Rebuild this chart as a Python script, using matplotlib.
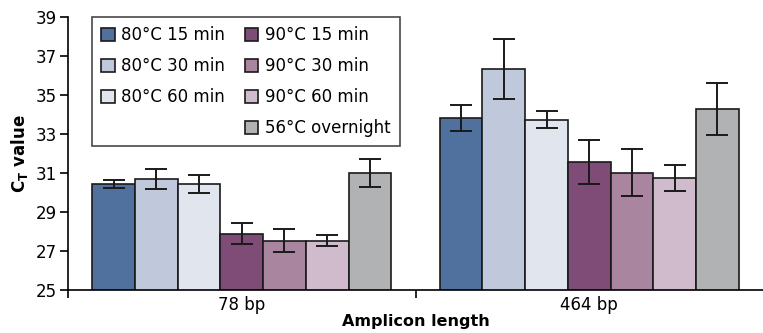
import matplotlib.pyplot as plt
from matplotlib.patches import Rectangle
import numpy as np

plt.rcParams['font.family'] = ['DejaVu Sans']

# amplicons and sample-prep conditions
amplicons = ['78 bp', '464 bp']
conditions = ['80°C 15 min', '80°C 30 min', '80°C 60 min',
              '90°C 15 min', '90°C 30 min', '90°C 60 min', '56°C overnight']
colors = ['#50709d', '#c0c9dc', '#e1e5ee',
          '#7f4b77', '#a9859f', '#d0bbcc', '#b1b2b4']

# mean CT per condition, one list per amplicon
ct_78 = [30.45, 30.69, 30.42, 27.89, 27.53, 27.53, 31.0]
ct_464 = [33.82, 36.33, 33.73, 31.56, 31.02, 30.74, 34.28]
# standard deviations
sd_78 = [0.2, 0.52, 0.47, 0.55, 0.6, 0.28, 0.72]
sd_464 = [0.65, 1.54, 0.44, 1.13, 1.2, 0.67, 1.33]

means = np.array([ct_78, ct_464])
errs = np.array([sd_78, sd_464])

fig = plt.figure(figsize=(7.63, 3.33), dpi=100)
ax = fig.add_axes([68 / 763, 1 - 290 / 333, 695 / 763, 273 / 333])

n = len(conditions)
width = 0.123
x = np.arange(len(amplicons))
bars = []
for i in range(n):
    pos = x + (i - (n - 1) / 2) * width
    b = ax.bar(pos, means[:, i], width, bottom=0, color=colors[i],
               edgecolor='#1a1a1a', linewidth=1.2, label=conditions[i], zorder=2)
    ax.errorbar(pos, means[:, i], yerr=errs[:, i], fmt='none', ecolor='#1a1a1a',
                elinewidth=1.4, capsize=8, capthick=1.4, zorder=3)
    bars.append(b)

ax.set_xlim(-0.5, 1.5)
ax.set_ylim(25, 39)
ax.set_yticks(np.arange(25, 40, 2))
ax.set_xticks(x)
ax.set_xticklabels(amplicons)
# separators under the axis: one at the origin, one between the groups
ax.set_xticks([-0.5, 0.5], minor=True)
ax.tick_params(axis='x', which='major', length=0, pad=4, labelsize=12)
ax.tick_params(axis='x', which='minor', length=6, width=1.2, direction='out')
ax.tick_params(axis='y', length=6, width=1.2, labelsize=12, pad=2)

for s in ['top', 'right']:
    ax.spines[s].set_visible(False)
for s in ['left', 'bottom']:
    ax.spines[s].set_linewidth(1.2)

ax.set_ylabel('C$_\\mathregular{T}$ value', fontsize=12, fontweight='bold', labelpad=4)
ax.set_xlabel('Amplicon length', fontsize=11.5, fontweight='bold', labelpad=0)

# legend: 80°C in the first column, 90°C and 56°C in the second
blank = Rectangle((0, 0), 1, 1, visible=False)
handles = [bars[0], bars[1], bars[2], blank, bars[3], bars[4], bars[5], bars[6]]
labels = [conditions[0], conditions[1], conditions[2], '',
          conditions[3], conditions[4], conditions[5], conditions[6]]
leg = ax.legend(handles, labels, ncol=2, loc='upper left',
                bbox_to_anchor=(24 / 695, 1.0), fontsize=12,
                frameon=True, fancybox=False, edgecolor='#1a1a1a',
                handlelength=0.8, handleheight=0.8, handletextpad=0.4,
                columnspacing=1.2, labelspacing=0.78, borderpad=0.55,
                borderaxespad=0)
leg.get_frame().set_linewidth(1.2)

fig.savefig('out.png', dpi=100)
